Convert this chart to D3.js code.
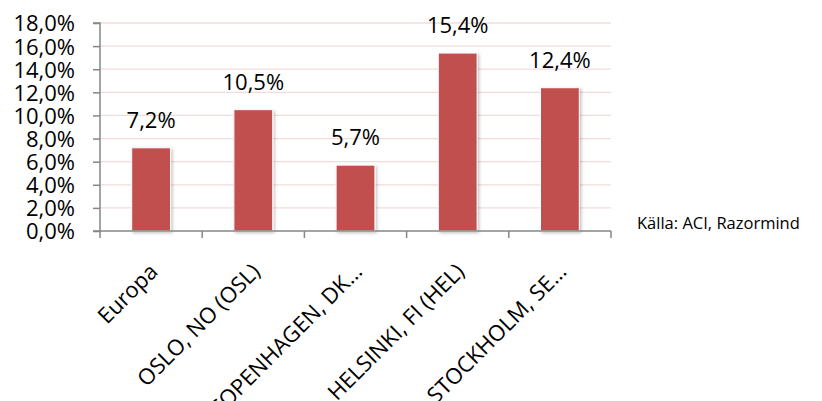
<!DOCTYPE html>
<html><head><meta charset="utf-8">
<script src="https://cdn.jsdelivr.net/npm/d3@7"></script>
<style>body{margin:0;background:#fff;overflow:hidden}svg{display:block}text{font-family:"Open Sans",sans-serif;fill:#000}</style>
</head><body><svg id="c" width="822" height="401"></svg>
<script>
const categories = ["Europa", "OSLO, NO (OSL)", "COPENHAGEN, DK…", "HELSINKI, FI (HEL)", "STOCKHOLM, SE…"];
const values = [7.2, 10.5, 5.7, 15.4, 12.4];
const yTicks = [0, 2, 4, 6, 8, 10, 12, 14, 16, 18];
const source = "Källa: ACI, Razormind";

const svg = d3.select("#c");
const mLeft = 100, mRight = 611, mTop = 23, mBottom = 231;
const x = d3.scaleBand().domain(categories).range([mLeft, mRight]).paddingInner(0.62).paddingOuter(0.31);
const y = d3.scaleLinear().domain([0, 18]).range([mBottom, mTop]);
const fmt = v => v.toFixed(1).replace(".", ",") + "%";

const defs = svg.append("defs");
const f = defs.append("filter").attr("id", "sh").attr("x", "-20%").attr("y", "-20%").attr("width", "150%").attr("height", "150%");
f.append("feDropShadow").attr("dx", 1.5).attr("dy", 1.5).attr("stdDeviation", 1.5).attr("flood-color", "#000").attr("flood-opacity", 0.25);

// gridlines
svg.append("g").selectAll("line").data(yTicks.filter(d => d > 0)).join("line")
  .attr("x1", mLeft).attr("x2", mRight).attr("y1", d => y(d)).attr("y2", d => y(d))
  .attr("stroke", "#f2dcdb").attr("stroke-width", 1.3);

// bars
svg.append("g").selectAll("rect").data(values).join("rect")
  .attr("x", (d, i) => x(categories[i])).attr("width", x.bandwidth())
  .attr("y", d => y(d)).attr("height", d => y(0) - y(d))
  .attr("fill", "#c0504d").attr("stroke", "#fff").attr("stroke-width", 1).attr("filter", "url(#sh)");

// value labels
svg.append("g").selectAll("text").data(values).join("text")
  .attr("x", (d, i) => x(categories[i]) + x.bandwidth() / 2).attr("y", d => y(d) - 20)
  .attr("text-anchor", "middle").attr("font-size", 22).text(fmt);

// y axis
const ya = svg.append("g").attr("transform", `translate(${mLeft},0)`)
  .call(d3.axisLeft(y).tickValues(yTicks).tickFormat(fmt).tickSize(7).tickPadding(18));
ya.select(".domain").attr("stroke", "#868686").attr("stroke-width", 1.5).attr("d", `M-7,${mTop}H0V${mBottom}H-7`);
ya.selectAll(".tick line").attr("stroke", "#868686").attr("stroke-width", 1.5);
ya.selectAll(".tick text").attr("font-size", 22).attr("font-family", "Open Sans").attr("fill", "#000").attr("dy", "0.36em");

// x axis
const xa = svg.append("g").attr("transform", `translate(0,${mBottom})`);
xa.append("line").attr("x1", mLeft).attr("x2", mRight).attr("stroke", "#868686").attr("stroke-width", 1.5);
const bandStep = (mRight - mLeft) / categories.length;
xa.selectAll("line.t").data(d3.range(categories.length + 1)).join("line").attr("class", "t")
  .attr("x1", i => mLeft + i * bandStep).attr("x2", i => mLeft + i * bandStep)
  .attr("y1", 0).attr("y2", 7).attr("stroke", "#868686").attr("stroke-width", 1.5);
xa.selectAll("text").data(categories).join("text")
  .attr("transform", d => `translate(${x(d) + x.bandwidth() / 2 + 8},${42}) rotate(-45)`)
  .attr("text-anchor", "end").attr("font-size", 22).text(d => d);

// source
svg.append("text").attr("x", 637).attr("y", 229).attr("font-size", 16.5).text(source);
</script></body></html>
